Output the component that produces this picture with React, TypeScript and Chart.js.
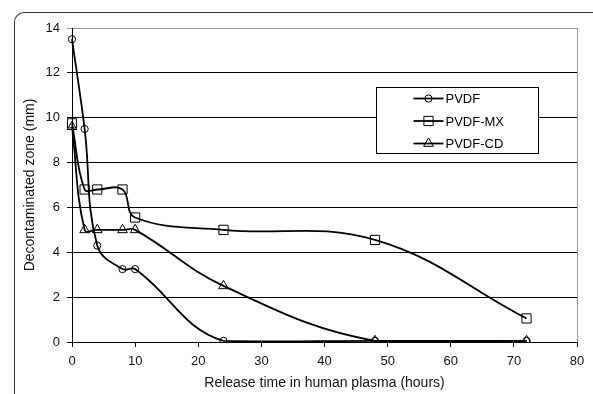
import React, { useEffect, useRef } from "react";
import { Chart, registerables } from "chart.js";

Chart.register(...registerables);

// ---- data ----
const hours = [0, 2, 4, 8, 10, 24, 48, 72];
const pvdf = [13.5, 9.5, 4.3, 3.25, 3.25, 0.05, 0.05, 0.05];
const pvdfMx = [9.75, 6.8, 6.8, 6.8, 5.55, 5.0, 4.55, 1.05];
const pvdfCd = [9.6, 5.0, 5.0, 5.0, 5.0, 2.5, 0.05, 0.05];
const seriesNames = ["PVDF", "PVDF-MX", "PVDF-CD"];
const xTitle = "Release time in human plasma (hours)";
const yTitle = "Decontaminated zone (mm)";
const xMin = 0, xMax = 80, xStep = 10;
const yMin = 0, yMax = 14, yStep = 2;

const FONT = "Arial, 'Liberation Sans', sans-serif";

const seriesValues = [pvdf, pvdfMx, pvdfCd];
const styles = [
  { pointStyle: "circle", radius: 3.6 },
  { pointStyle: "rect", radius: 6.5 },
  { pointStyle: "triangle", radius: 5.6 },
];

function drawMarker(ctx: CanvasRenderingContext2D, style: string, x: number, y: number, r: number) {
  ctx.beginPath();
  if (style === "circle") {
    ctx.arc(x, y, r, 0, Math.PI * 2);
  } else if (style === "rect") {
    const s = Math.SQRT1_2 * r;
    ctx.rect(x - s, y - s, 2 * s, 2 * s);
  } else {
    const a = Math.PI / 6;
    ctx.moveTo(x, y - r);
    ctx.lineTo(x + Math.cos(a) * r, y + Math.sin(a) * r);
    ctx.lineTo(x - Math.cos(a) * r, y + Math.sin(a) * r);
    ctx.closePath();
  }
  ctx.stroke();
}

const frameBorderPlugin = {
  id: "frameBorder",
  beforeDatasetsDraw(chart: any) {
    const { ctx, chartArea } = chart;
    ctx.save();
    ctx.strokeStyle = "#9a9a9a";
    ctx.lineWidth = 1;
    ctx.beginPath();
    ctx.moveTo(Math.round(chartArea.right) + 0.5, chartArea.top);
    ctx.lineTo(Math.round(chartArea.right) + 0.5, chartArea.bottom);
    ctx.stroke();
    ctx.restore();
  },
};

const boxLegendPlugin = {
  id: "boxLegend",
  afterDraw(chart: any) {
    const { ctx, chartArea } = chart;
    const left = Math.round(chartArea.left + 304) + 0.5;
    const top = Math.round(chartArea.top + 59) + 0.5;
    const w = 162, h = 66;
    ctx.save();
    ctx.fillStyle = "#ffffff";
    ctx.fillRect(left, top, w, h);
    ctx.strokeStyle = "#000000";
    ctx.lineWidth = 1;
    ctx.strokeRect(left, top, w, h);
    const rows = [11, 33.5, 56];
    ctx.font = `13px ${FONT}`;
    ctx.textBaseline = "middle";
    ctx.fillStyle = "#000000";
    seriesNames.forEach((name, i) => {
      const y = top + rows[i];
      ctx.lineWidth = 1.8;
      ctx.beginPath();
      ctx.moveTo(left + 37, y);
      ctx.lineTo(left + 67, y);
      ctx.stroke();
      ctx.lineWidth = 1;
      drawMarker(ctx, styles[i].pointStyle, left + 52, y, styles[i].radius);
      ctx.fillText(name, left + 69, y + 1);
    });
    ctx.restore();
  },
};

export default function App() {
  const canvasRef = useRef<HTMLCanvasElement | null>(null);

  useEffect(() => {
    const canvas = canvasRef.current;
    if (!canvas) return;
    const datasets = seriesNames.map((name, i) => ({
      label: name,
      data: hours.map((h, j) => ({ x: h, y: seriesValues[i][j] })),
      showLine: true,
      borderColor: "#000000",
      borderWidth: 1.8,
      backgroundColor: "rgba(0,0,0,0)",
      pointStyle: styles[i].pointStyle,
      pointRadius: styles[i].radius,
      pointBorderWidth: 1,
      pointBorderColor: "#000000",
      pointBackgroundColor: "rgba(0,0,0,0)",
      tension: 0.4,
      clip: { left: 8, right: 8, top: 8, bottom: 1 },
    }));

    const chart = new Chart(canvas, {
      type: "scatter",
      data: { datasets } as any,
      options: {
        animation: false,
        responsive: false,
        events: [],
        layout: { padding: { left: 14, top: 28, right: 16, bottom: 0 } },
        plugins: {
          legend: { display: false },
          tooltip: { enabled: false },
        },
        scales: {
          x: {
            type: "linear",
            min: xMin,
            max: xMax,
            afterFit: (scale: any) => { scale.height = 52; },
            ticks: {
              stepSize: xStep,
              padding: 7,
              color: "#111111",
              font: { family: FONT, size: 13 },
              maxRotation: 0,
            },
            grid: {
              drawOnChartArea: false,
              drawTicks: true,
              tickLength: 5,
              color: "#000000",
              lineWidth: 1,
            },
            border: { display: true, color: "#000000", width: 1 },
            title: {
              display: true,
              text: xTitle,
              color: "#111111",
              font: { family: FONT, size: 14 },
              padding: { top: 0, bottom: 2 },
            },
          },
          y: {
            type: "linear",
            min: yMin,
            max: yMax,
            afterFit: (scale: any) => { scale.width = 58; },
            ticks: {
              stepSize: yStep,
              padding: 7,
              color: "#111111",
              font: { family: FONT, size: 13 },
            },
            grid: {
              drawOnChartArea: true,
              drawTicks: true,
              tickLength: 5,
              color: (ctx: any) => (ctx.tick && ctx.tick.value === yMax ? "#9a9a9a" : "#000000"),
              lineWidth: 1,
            },
            border: { display: true, color: "#000000", width: 1 },
            title: {
              display: true,
              text: yTitle,
              color: "#111111",
              font: { family: FONT, size: 14 },
              padding: { top: 8, bottom: 0 },
            },
          },
        },
      } as any,
      plugins: [frameBorderPlugin, boxLegendPlugin],
    });
    return () => chart.destroy();
  }, []);

  return (
    <div
      style={{
        position: "fixed",
        left: 0,
        top: 0,
        width: 593,
        height: 394,
        overflow: "hidden",
        background: "#ffffff",
      }}
    >
      <div
        style={{
          position: "absolute",
          left: 14,
          top: 12,
          width: 800,
          height: 500,
          borderLeft: "1px solid #333333",
          borderTop: "1px solid #333333",
          borderTopLeftRadius: 10,
        }}
      />
      <canvas
        ref={canvasRef}
        width={593}
        height={394}
        style={{ position: "absolute", left: 0, top: 0, display: "block" }}
      />
    </div>
  );
}
